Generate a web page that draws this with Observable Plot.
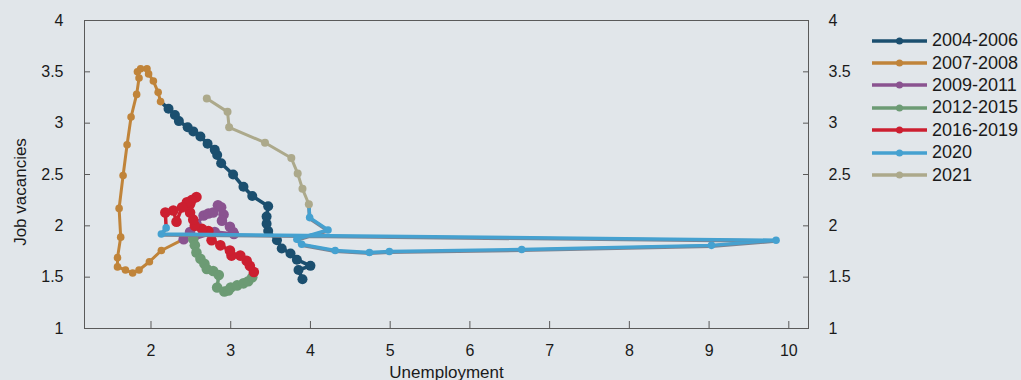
<!DOCTYPE html>
<html><head><meta charset="utf-8">
<script src="https://cdn.jsdelivr.net/npm/d3@7"></script>
<script src="https://cdn.jsdelivr.net/npm/@observablehq/plot@0.6"></script>
<style>
html,body{margin:0;padding:0;background:#e1e6ea;}
#wrap{position:relative;width:1021px;height:380px;overflow:hidden;font-family:"Liberation Sans",Arial,sans-serif;color:#1a1a1a;}
#legend{position:absolute;left:871px;top:29.5px;}
.item{display:flex;align-items:center;height:22.4px;font-size:18px;white-space:nowrap;}
.item svg{margin-right:4px;}
#ylab{position:absolute;left:20px;top:192px;transform:translate(-50%,-50%) rotate(-90deg);font-size:17px;white-space:nowrap;line-height:1;}
</style></head><body><div id="wrap"><div id="ylab">Job vacancies</div><div id="legend"></div></div>
<script>
const seriesNames = ["2004-2006","2007-2008","2009-2011","2012-2015","2016-2019","2020","2021"];
const seriesColors = ["#1b4f6f","#c0843a","#8a5390","#6c9b74","#cc1f30","#45a1d0","#aca98b"];

// Unemployment (x) and job vacancies (y), per period
const u0406 = [3.90,3.85,4.00,3.83,3.75,3.64,3.58,3.47,3.45,3.45,3.47,3.27,3.16,3.03,2.88,2.83,2.80,2.71,2.62,2.53,2.46,2.35,2.30,2.22,2.12];
const v0406 = [1.48,1.57,1.61,1.67,1.73,1.78,1.86,1.95,2.02,2.09,2.19,2.29,2.38,2.50,2.61,2.69,2.74,2.80,2.87,2.92,2.96,3.02,3.08,3.14,3.21];
const u0708 = [2.12,2.09,2.03,1.97,1.95,1.87,1.83,1.85,1.82,1.75,1.70,1.65,1.60,1.62,1.58,1.58,1.68,1.77,1.85,1.98,2.13,2.41];
const v0708 = [3.21,3.30,3.41,3.48,3.53,3.53,3.50,3.44,3.28,3.06,2.79,2.49,2.17,1.89,1.69,1.60,1.57,1.54,1.57,1.65,1.76,1.87];
const u0911 = [2.41,2.49,2.57,2.66,2.72,2.78,2.84,2.88,2.91,2.89,2.99,3.03,3.04,2.80,2.53];
const v0911 = [1.87,1.94,2.02,2.10,2.12,2.13,2.20,2.18,2.11,2.05,1.99,1.94,1.92,1.94,1.87];
const u1215 = [2.53,2.55,2.57,2.62,2.67,2.70,2.78,2.85,2.83,2.92,2.97,3.00,3.08,3.16,3.22,3.27,3.29];
const v1215 = [1.87,1.81,1.74,1.68,1.63,1.58,1.56,1.52,1.40,1.36,1.37,1.40,1.42,1.44,1.46,1.50,1.55];
const u1619 = [3.29,3.24,3.20,3.12,3.01,2.99,2.87,2.76,2.72,2.64,2.55,2.53,2.49,2.49,2.57,2.51,2.45,2.39,2.32,2.28,2.18,2.19];
const v1619 = [1.55,1.61,1.66,1.71,1.71,1.76,1.81,1.86,1.95,1.97,2.00,2.06,2.13,2.21,2.28,2.25,2.23,2.18,2.04,2.15,2.13,1.98];
const u2020 = [2.19,2.13,9.84,9.03,6.65,4.99,4.74,4.31,3.89,3.83,4.22,3.99,3.98];
const v2020 = [1.98,1.92,1.86,1.81,1.77,1.75,1.74,1.76,1.82,1.87,1.96,2.08,2.21];
const u2021 = [3.98,3.90,3.84,3.76,3.43,2.98,2.96,2.70];
const v2021 = [2.21,2.36,2.51,2.66,2.81,2.96,3.11,3.24];

const xTicks = [2,3,4,5,6,7,8,9,10];
const yTicks = [1,1.5,2,2.5,3,3.5,4];

const seriesU = [u0406,u0708,u0911,u1215,u1619,u2020,u2021];
const seriesV = [v0406,v0708,v0911,v1215,v1619,v2020,v2021];
const dotR = [5,3.8,5.3,5.3,5.3,3.8,4];
const lineW = [3.6,3,3.5,3.5,3.5,3.4,3];

const rows = seriesNames.map((name, i) =>
  seriesU[i].map((u, j) => ({series: name, u, v: seriesV[i][j]})));

const dataMarks = [];
rows.forEach((data, i) => {
  const last = i === rows.length - 1;
  if (seriesNames[i] === "2020") {
    dataMarks.push(Plot.line(data, {x: "u", y: "v", stroke: "#7d8390", strokeWidth: 3.6, dy: 0.8}));
  }
  dataMarks.push(Plot.line(data, {x: "u", y: "v", stroke: "series", strokeWidth: lineW[i]}));
  dataMarks.push(Plot.dot(last ? data : data.slice(0, -1), {x: "u", y: "v", fill: "series", r: dotR[i]}));
});

const chart = Plot.plot({
  width: 1021, height: 380,
  marginLeft: 84, marginRight: 213, marginTop: 20, marginBottom: 52,
  style: {background: "transparent", fontFamily: "Liberation Sans, Arial, sans-serif", fontSize: "16px", color: "#1a1a1a"},
  x: {domain: [1.166, 10.247]},
  y: {domain: [1, 4]},
  color: {domain: seriesNames, range: seriesColors},
  marks: [
    Plot.frame({stroke: "#5a5a5a"}),
    Plot.axisX({ticks: xTicks, anchor: "bottom", tickSize: -7, tickPadding: 23, stroke: "#5a5a5a", label: null, tickFormat: d => String(d)}),
    Plot.axisY({ticks: yTicks, anchor: "left", tickSize: -6, tickPadding: 27, stroke: "#5a5a5a", label: null, tickFormat: d => String(d)}),
    Plot.axisY({ticks: yTicks, anchor: "right", tickSize: -6, tickPadding: 26, stroke: "#5a5a5a", label: null, tickFormat: d => String(d)}),
    Plot.text(["Unemployment"], {frameAnchor: "bottom", dy: 49, fontSize: 17, fill: "#1a1a1a"}),
    ...dataMarks
  ]
});
document.getElementById("wrap").prepend(chart);

const legend = document.getElementById("legend");
seriesNames.forEach((name, i) => {
  const item = document.createElement("div");
  item.className = "item";
  item.innerHTML = `<svg width="57" height="12"><line x1="1" x2="56" y1="6" y2="6" stroke="${seriesColors[i]}" stroke-width="3.5"/><circle cx="28.5" cy="6" r="3.5" fill="${seriesColors[i]}"/></svg><span>${name}</span>`;
  legend.appendChild(item);
});
</script>
</body></html>
